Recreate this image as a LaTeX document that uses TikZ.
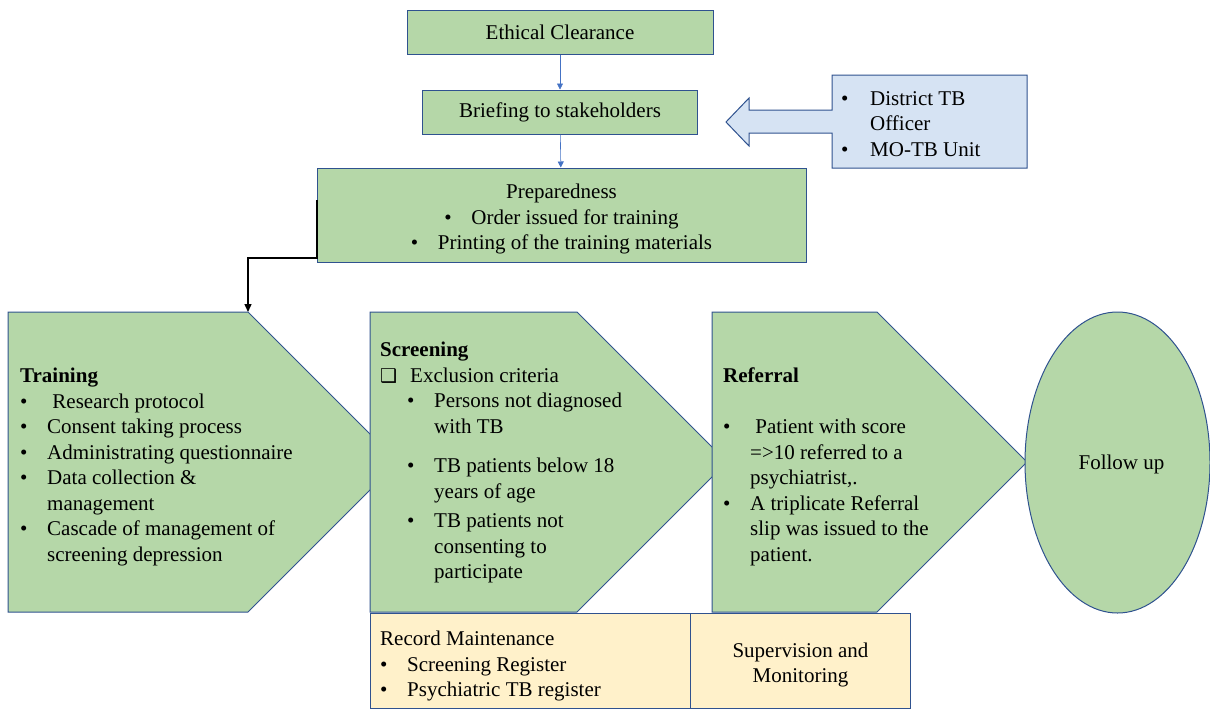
\documentclass[tikz,border=0pt]{standalone}
\usepackage{fontspec}
\setmainfont{Liberation Serif}
\newfontfamily\symfont{DejaVu Sans}
\usetikzlibrary{positioning,arrows.meta,shapes.geometric}

\definecolor{stagegreen}{RGB}{181,215,168}
\definecolor{edgeblue}{RGB}{47,82,143}
\definecolor{calloutblue}{RGB}{214,227,243}
\definecolor{notesyellow}{RGB}{255,241,202}
\definecolor{linkblue}{RGB}{68,114,196}

\newcommand{\bul}{\makebox[27pt][l]{\textbullet}}
\newcommand{\ind}{\hspace*{27pt}}

\begin{document}
\begin{tikzpicture}[x=1pt,y=-1pt,
  every node/.style={font=\fontsize{21}{25.5}\selectfont},
  stage/.style={draw=edgeblue,fill=stagegreen,line width=1pt},
  greenbox/.style={stage,inner sep=0pt},
  bluebox/.style={draw=edgeblue,fill=calloutblue,line width=1pt},
  notebox/.style={draw=edgeblue,fill=notesyellow,line width=1pt,inner sep=0pt},
  txt/.style={inner sep=0pt,align=left,anchor=north west},
  link/.style={draw=linkblue,line width=0.6pt,-{Triangle[length=6pt,width=6pt]}},
  elbow/.style={draw=black,line width=1.4pt,-{Triangle[length=8pt,width=7pt]}}]

\useasboundingbox (0,0) rectangle (1210,710);

% top of the flow
\node[greenbox,minimum width=306pt,minimum height=44pt] (ethics) at (560,32) {Ethical Clearance};
\node[greenbox,minimum width=275pt,minimum height=44pt] (briefing) at (560,112) {Briefing to stakeholders};
\node[greenbox,minimum width=489pt,minimum height=94pt] (prep) at (561.5,215) {};
\node[inner sep=0pt,align=center] (prep_text) at ([yshift=-4pt]prep.center) {Preparedness\\ \bul Order issued for training\\ \bul Printing of the training materials};
\draw[link] (ethics) -- (briefing);
\draw[link] (briefing) -- (prep);

% who is briefed
\draw[bluebox] (832,75) -- (1027,75) -- (1027,168) -- (832,168) -- (832,133) -- (749,133) -- (749,146) -- (726,122) -- (749,98) -- (749,110) -- (832,110) -- cycle;
\node[txt] (officers) at (841,91) {\makebox[29pt][l]{\textbullet}District TB\\ \hspace*{29pt}Officer\\ \makebox[29pt][l]{\textbullet}MO-TB Unit};

% the three stages
\draw[stage] (8,312) -- (248,312) -- (398,462) -- (248,612) -- (8,612) -- cycle;
\draw[stage] (370,312) -- (577,312) -- (727,462) -- (577,612) -- (370,612) -- cycle;
\draw[stage] (712,312) -- (877,312) -- (1027,462) -- (877,612) -- (712,612) -- cycle;
\node[stage,ellipse,minimum width=185pt,minimum height=301pt] (followup) at (1117.5,462.5) {};
\node (followup_text) at ([xshift=4pt,yshift=-2pt]followup.center) {Follow up};

\coordinate (train_top) at (248,312);
\coordinate (prep_out) at (317,200);
\draw[elbow] (prep_out) -- ++(0,58) -| (train_top);

\node[txt] (training_text) at (20,368) {\textbf{Training}\\ \bul\ Research protocol\\ \bul Consent taking process\\ \bul Administrating questionnaire\\ \bul Data collection \&\\ \ind management\\ \bul Cascade of management of\\ \ind screening depression};
\node[txt] (screening_text) at (380,342) {\textbf{Screening}\\ \makebox[30pt][l]{\symfont\fontsize{19}{19}\selectfont ❑}Exclusion criteria\\ \ind\bul Persons not diagnosed\\ \ind\ind with TB\\[14pt] \ind\bul TB patients below 18\\ \ind\ind years of age\\[4pt] \ind\bul TB patients not\\ \ind\ind consenting to\\ \ind\ind participate};
\node[txt] (referral_text) at (723,368) {\textbf{Referral}\\[25.5pt] \bul\ Patient with score\\ \ind =>10 referred to a\\ \ind psychiatrist,.\\ \bul A triplicate Referral\\ \ind slip was issued to the\\ \ind patient.};

% notes under the stages
\node[notebox,minimum width=320pt,minimum height=95pt,anchor=north west] (records) at (370,613) {};
\node[txt] (records_text) at (380,631) {Record Maintenance\\ \bul Screening Register\\ \bul Psychiatric TB register};
\node[notebox,minimum width=220pt,minimum height=95pt,anchor=north west] (supervision) at (690,613) {};
\node[inner sep=0pt,align=center] (supervision_text) at ([yshift=-4pt]supervision.center) {Supervision and\\ Monitoring};
\end{tikzpicture}
\end{document}
